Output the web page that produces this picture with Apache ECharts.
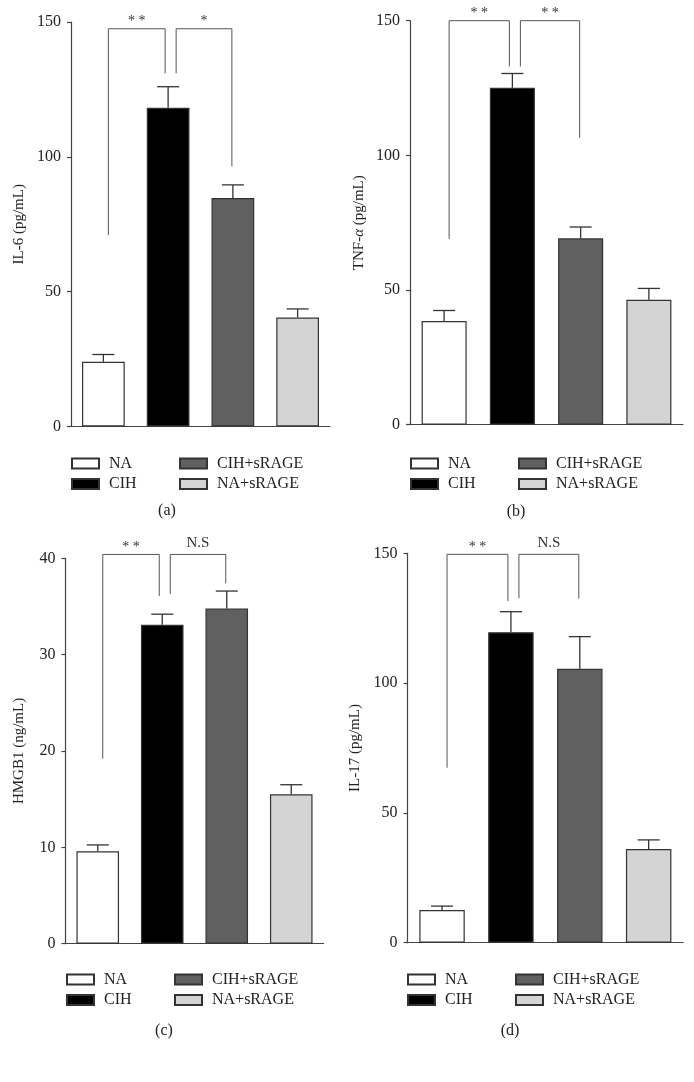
<!DOCTYPE html>
<html>
<head>
<meta charset="utf-8">
<script src="https://cdn.jsdelivr.net/npm/echarts@6/dist/echarts.min.js"></script>
<style>
  html, body { margin: 0; padding: 0; background: #ffffff; }
  #chart { width: 694px; height: 1082px; }
</style>
</head>
<body>
<div id="chart"></div>
<script>
// ---------------- data ----------------
const categories = ['NA', 'CIH', 'CIH+sRAGE', 'NA+sRAGE'];

const il6Mean = [24.0, 118.2, 84.7, 40.4];
const il6Sem = [2.7, 7.8, 4.9, 3.2];

const tnfMean = [38.5, 125.1, 69.2, 46.4];
const tnfSem = [3.9, 5.3, 4.2, 4.2];

const hmgb1Mean = [9.6, 33.1, 34.8, 15.5];
const hmgb1Sem = [0.65, 1.1, 1.8, 1.0];

const il17Mean = [12.6, 119.6, 105.5, 36.1];
const il17Sem = [1.5, 7.9, 12.4, 3.5];

// brackets: [fromGroup, toGroup, leftEndValue, rightEndValue, topValue]
const il6Brackets = [[0, 1, 71, 131, 147.5], [1, 2, 131, 96.5, 147.5]];
const il6Marks = ['* *', '*'];
const tnfBrackets = [[0, 1, 69, 133, 150], [1, 2, 133, 106.5, 150]];
const tnfMarks = ['* *', '* *'];
const hmgb1Brackets = [[0, 1, 19.2, 36.1, 40.4], [1, 2, 36.3, 37.4, 40.4]];
const hmgb1Marks = ['* *', 'N.S'];
const il17Brackets = [[0, 1, 67.4, 131.6, 149.6], [1, 2, 132.7, 132.5, 149.6]];
const il17Marks = ['* *', 'N.S'];

const yTicks150 = [0, 150, 50];
const yTicks40 = [0, 40, 10];

// ---------------- layout / style ----------------
const FONT = '"Liberation Serif", "DejaVu Serif", serif';
const groupColors = ['#ffffff', '#000000', '#606060', '#d4d4d4'];
const AXIS = '#444444';

const panels = [
  { mean: il6Mean, sem: il6Sem, br: il6Brackets, marks: il6Marks, ticks: yTicks150,
    name: 'IL-6 (pg/mL)', nameGap: 44, caption: '(a)',
    grid: { left: 71, top: 22, width: 259, height: 404.5 },
    legendTop: 455.5, legendX: [71, 179], captionPos: [167, 511] },
  { mean: tnfMean, sem: tnfSem, br: tnfBrackets, marks: tnfMarks, ticks: yTicks150,
    name: 'TNF-{i|α} (pg/mL)', nameGap: 43, caption: '(b)',
    grid: { left: 410, top: 20.7, width: 273, height: 404 },
    legendTop: 455.5, legendX: [410, 518], captionPos: [516, 512] },
  { mean: hmgb1Mean, sem: hmgb1Sem, br: hmgb1Brackets, marks: hmgb1Marks, ticks: yTicks40,
    name: 'HMGB1 (ng/mL)', nameGap: 39, caption: '(c)',
    grid: { left: 65.5, top: 558.3, width: 258, height: 385.4 },
    legendTop: 971.5, legendX: [66, 174], captionPos: [164, 1031] },
  { mean: il17Mean, sem: il17Sem, br: il17Brackets, marks: il17Marks, ticks: yTicks150,
    name: 'IL-17 (pg/mL)', nameGap: 45, caption: '(d)',
    grid: { left: 407.6, top: 553.3, width: 275.5, height: 389.4 },
    legendTop: 971.5, legendX: [407, 515], captionPos: [510, 1031] }
];

const grids = [], xAxes = [], yAxes = [], series = [], legends = [], graphics = [];

panels.forEach((p, k) => {
  grids.push(Object.assign({ containLabel: false }, p.grid));
  xAxes.push({
    type: 'category', gridIndex: k, data: categories, boundaryGap: true,
    axisLine: { lineStyle: { color: AXIS, width: 1.2 } },
    axisTick: { alignWithLabel: true, length: 8, lineStyle: { color: AXIS, width: 1.2 } },
    axisLabel: { show: false }, splitLine: { show: false }
  });
  yAxes.push({
    type: 'value', gridIndex: k, min: p.ticks[0], max: p.ticks[1], interval: p.ticks[2],
    axisLine: { show: true, lineStyle: { color: AXIS, width: 1.2 } },
    axisTick: { show: true, length: 4, lineStyle: { color: AXIS, width: 1.2 } },
    splitLine: { show: false },
    axisLabel: { fontFamily: FONT, fontSize: 16, color: '#222', margin: 10 },
    name: p.name, nameLocation: 'middle', nameGap: p.nameGap,
    nameTextStyle: { fontFamily: FONT, fontSize: 15, color: '#222',
      rich: { i: { fontFamily: FONT, fontSize: 15, fontStyle: 'italic', color: '#222' } } }
  });
  categories.forEach((c, i) => {
    series.push({
      type: 'bar', name: c, xAxisIndex: k, yAxisIndex: k,
      data: p.mean.map((v, j) => (j === i ? v : '-')),
      barWidth: '66%', barGap: '-100%', silent: true, animation: false,
      itemStyle: { color: groupColors[i], borderColor: '#333', borderWidth: 1.2 }
    });
  });
  // error bars (upper only)
  series.push({
    type: 'custom', xAxisIndex: k, yAxisIndex: k, silent: true, animation: false, z: 5,
    data: p.mean.map((m, i) => [i, m, p.sem[i]]),
    renderItem: function (params, api) {
      const x = api.value(0), m = api.value(1), s = api.value(2);
      const a = api.coord([x, m]);
      const b = api.coord([x, m + s]);
      const hw = 11;
      const st = { stroke: '#333', lineWidth: 1.3 };
      return { type: 'group', children: [
        { type: 'line', shape: { x1: a[0], y1: a[1], x2: b[0], y2: b[1] }, style: st },
        { type: 'line', shape: { x1: b[0] - hw, y1: b[1], x2: b[0] + hw, y2: b[1] }, style: st }
      ] };
    }
  });
  // significance brackets
  const marks = p.marks;
  series.push({
    type: 'custom', xAxisIndex: k, yAxisIndex: k, silent: true, animation: false, z: 6,
    clip: false,
    data: p.br.map(b => [b[0], b[4], b[1], b[2], b[3]]),
    renderItem: function (params, api) {
      const g1 = api.value(0), top = api.value(1), g2 = api.value(2);
      const yl = api.value(3), yr = api.value(4);
      const first = params.dataIndex === 0;
      const dxL = first ? 5 : 8, dxR = first ? -3 : -1;
      const pl = api.coord([g1, yl]), pr = api.coord([g2, yr]);
      const pt = api.coord([g1, top]);
      const xl = pl[0] + dxL, xr = pr[0] + dxR;
      const st = { stroke: '#555', lineWidth: 1, fill: null };
      const txt = marks[params.dataIndex];
      const isStar = txt.indexOf('*') >= 0;
      return { type: 'group', children: [
        { type: 'polyline', shape: { points: [[xl, pl[1]], [xl, pt[1]], [xr, pt[1]], [xr, pr[1]]] }, style: st },
        { type: 'text', x: (xl + xr) / 2, y: pt[1] - (isStar ? 7 : 11),
          style: { text: txt, align: 'center', verticalAlign: 'middle',
            font: (isStar ? '14px ' : '15px ') + FONT, fill: '#333' } }
      ] };
    }
  });
  // legends (two columns)
  [[categories[0], categories[1]], [categories[2], categories[3]]].forEach((cols, c) => {
    legends.push({
      orient: 'vertical', left: p.legendX[c], top: p.legendTop, padding: 0,
      itemGap: 4.5, itemWidth: 27, itemHeight: 10, icon: 'rect', selectedMode: false,
      data: cols,
      textStyle: { fontFamily: FONT, fontSize: 16, color: '#222', lineHeight: 16, padding: [0, 0, 0, 5] }
    });
  });
  graphics.push({
    type: 'text', x: p.captionPos[0], y: p.captionPos[1],
    style: { text: p.caption, align: 'center', verticalAlign: 'middle', font: '16px ' + FONT, fill: '#222' }
  });
});

const chart = echarts.init(document.getElementById('chart'), null, { renderer: 'canvas' });
chart.setOption({
  backgroundColor: '#ffffff',
  animation: false,
  grid: grids, xAxis: xAxes, yAxis: yAxes, series: series,
  legend: legends, graphic: graphics
});
</script>
</body>
</html>
